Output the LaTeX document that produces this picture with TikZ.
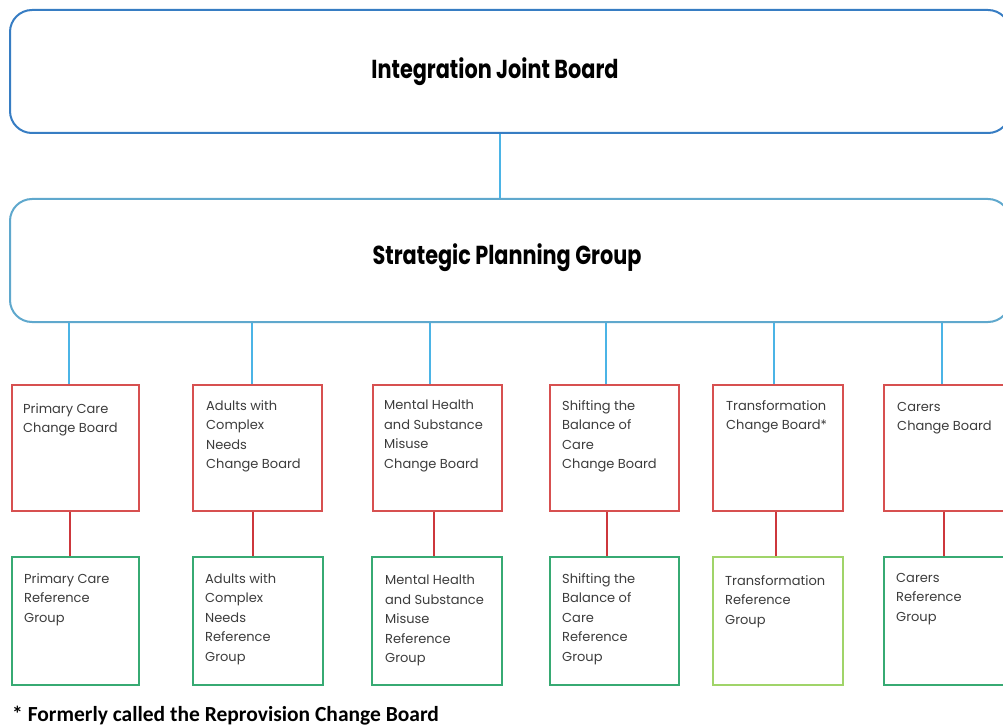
\documentclass[tikz,border=0pt]{standalone}
\usepackage{fontspec}
\setmainfont{Poppins}
\newfontfamily\headfont[FakeStretch=0.8]{Poppins}
\newfontfamily\notefont{Carlito}
\definecolor{ijbblue}{RGB}{55,125,195}
\definecolor{spgblue}{RGB}{95,168,205}
\definecolor{linkblue}{RGB}{75,180,230}
\definecolor{cbred}{RGB}{215,80,80}
\definecolor{linkred}{RGB}{205,55,60}
\definecolor{rggreen}{RGB}{55,170,115}
\definecolor{rglight}{RGB}{160,212,105}
\definecolor{txtgray}{RGB}{60,60,60}
\begin{document}
\begin{tikzpicture}[x=1pt,y=-1pt,
  bigbox/.style={draw, rounded corners=22pt, line width=2pt, inner sep=0pt, minimum width=1000pt, minimum height=123pt},
  headtxt/.style={inner sep=0pt, font=\headfont\bfseries\fontsize{26}{28}\selectfont},
  cbox/.style={draw=cbred, line width=2.4pt, inner sep=0pt, minimum height=126pt},
  rbox/.style={draw=rggreen, line width=2.4pt, inner sep=0pt, minimum height=128pt},
  boxtxt/.style={anchor=north west, inner sep=0pt, align=left, text=txtgray, font=\fontsize{13}{19.5}\selectfont},
  blink/.style={draw=linkblue, line width=1.6pt},
  rlink/.style={draw=linkred, line width=1.6pt}]
\useasboundingbox (0,0) rectangle (1003,727);
\clip (0,0) rectangle (1003,727);

% top boxes
\node[bigbox, draw=ijbblue] (ijb) at (510,71.5) {};
\node[headtxt] (ijbt) at (495,72) {Integration Joint Board};
\node[bigbox, draw=spgblue] (spg) at (510,260.5) {};
\node[headtxt] (spgt) at (507,258) {Strategic Planning Group};
\draw[blink] ([xshift=-10pt]ijb.south) -- ([xshift=-10pt]spg.north);

% change boards
\node[cbox, minimum width=127pt] (c1) at (75.5,448) {};
\node[cbox, minimum width=129pt] (c2) at (257.5,448) {};
\node[cbox, minimum width=129pt] (c3) at (437.5,448) {};
\node[cbox, minimum width=129pt] (c4) at (614.5,448) {};
\node[cbox, minimum width=130pt] (c5) at (778,448) {};
\node[cbox, minimum width=129pt] (c6) at (948.5,448) {};

% reference groups
\node[rbox, minimum width=127pt] (r1) at (75.5,621) {};
\node[rbox, minimum width=130pt] (r2) at (258,621) {};
\node[rbox, minimum width=130pt] (r3) at (437,621) {};
\node[rbox, minimum width=129pt] (r4) at (614.5,621) {};
\node[rbox, draw=rglight, minimum width=130pt] (r5) at (778,621) {};
\node[rbox, minimum width=129pt] (r6) at (948.5,621) {};

% blue links
\foreach \n/\o in {c1/-6.5,c2/-5.5,c3/-7.5,c4/-8.5,c5/-4,c6/-6.5}
  \draw[blink] ([xshift=\o pt]\n.north) -- ([xshift=\o pt]\n.north |- spg.south);
% red links
\foreach \n/\r/\o in {c1/r1/-5.5,c2/r2/-4.5,c3/r3/-3.5,c4/r4/-7.5,c5/r5/-2,c6/r6/-4.5}
  \draw[rlink] ([xshift=\o pt]\n.south) -- ([xshift=\o pt]\n.south |- \r.north);

% texts in change boards
\node[boxtxt] (c1t) at (23,403) {Primary Care\\Change Board};
\node[boxtxt] (c2t) at (206,400) {Adults with\\Complex\\Needs\\Change Board};
\node[boxtxt] (c3t) at (384,400) {Mental Health\\and Substance\\Misuse\\Change Board};
\node[boxtxt] (c4t) at (562,400) {Shifting the\\Balance of\\Care\\Change Board};
\node[boxtxt] (c5t) at (726,400) {Transformation\\Change Board*};
\node[boxtxt] (c6t) at (897,402) {Carers\\Change Board};

% texts in reference groups
\node[boxtxt] (r1t) at (24,573) {Primary Care\\Reference\\Group};
\node[boxtxt] (r2t) at (205,573) {Adults with\\Complex\\Needs\\Reference\\Group};
\node[boxtxt] (r3t) at (385,575) {Mental Health\\and Substance\\Misuse\\Reference\\Group};
\node[boxtxt] (r4t) at (562,573) {Shifting the\\Balance of\\Care\\Reference\\Group};
\node[boxtxt] (r5t) at (725,575) {Transformation\\Reference\\Group};
\node[boxtxt] (r6t) at (896,573) {Carers\\Reference\\Group};

% footnote
\node[anchor=west, inner sep=0pt, font=\notefont\bfseries\fontsize{21.5}{24}\selectfont] (note) at (12,716) {* Formerly called the Reprovision Change Board};
\end{tikzpicture}
\end{document}
